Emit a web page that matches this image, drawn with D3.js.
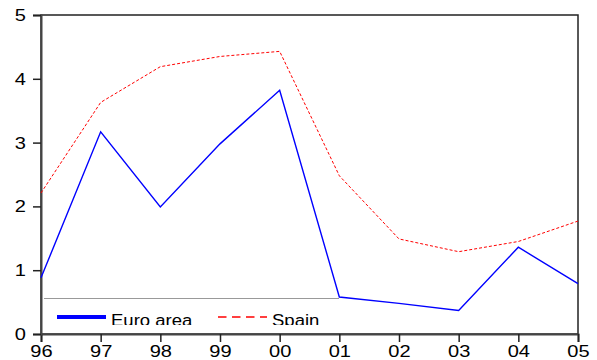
<!DOCTYPE html>
<html>
<head>
<meta charset="utf-8">
<script src="https://cdn.jsdelivr.net/npm/d3@7"></script>
<style>
  body { margin: 0; background: #fff; }
  text { font-family: "Liberation Sans", Arial, sans-serif; }
</style>
</head>
<body>
<div id="chart"></div>
<script>
'use strict';

var years = ['96', '97', '98', '99', '00', '01', '02', '03', '04', '05'];
var euroArea = [0.88, 3.17, 1.99, 2.98, 3.82, 0.58, 0.48, 0.37, 1.36, 0.79];
var spain = [2.21, 3.63, 4.19, 4.35, 4.43, 2.48, 1.49, 1.29, 1.45, 1.77];
var yTicks = [0, 1, 2, 3, 4, 5];

var chart = {};
chart.w = 597;
chart.h = 360;
chart.margins = {top: 15, right: 19, bottom: 26, left: 41};
chart.cw = chart.w - chart.margins.left - chart.margins.right;
chart.ch = chart.h - chart.margins.top - chart.margins.bottom;
chart.stretch = 1.18;   // the labels in the original are a bit wide

var svg = d3.select('#chart').append('svg')
    .attr('width', chart.w)
    .attr('height', chart.h);

var g = svg.append('g')
    .attr('transform', 'translate(' + chart.margins.left + ',' + chart.margins.top + ')');

var xScale = d3.scalePoint().domain(years).range([0, chart.cw]);
var yScale = d3.scaleLinear().domain([0, 5]).range([chart.ch, 0]);

// frame
g.append('rect')
    .attr('x', 0).attr('y', 0)
    .attr('width', chart.cw).attr('height', chart.ch)
    .attr('fill', 'none')
    .attr('stroke', '#222')
    .attr('stroke-width', 1.5);

var xAxis = d3.axisBottom(xScale).tickSize(8).tickPadding(3);
var yAxis = d3.axisLeft(yScale).tickValues(yTicks).tickFormat(d3.format('d'))
    .tickSize(8).tickPadding(6);

var xg = g.append('g')
    .attr('transform', 'translate(0,' + chart.ch + ')')
    .call(xAxis);
var yg = g.append('g').call(yAxis);

[xg, yg].forEach(function (a) {
    a.attr('font-family', '"Liberation Sans", Arial, sans-serif').attr('font-size', 17);
    a.select('.domain').attr('stroke', '#444').attr('stroke-width', 2);
    a.selectAll('.tick line').attr('stroke', '#222').attr('stroke-width', 1.5);
    a.selectAll('.tick text').attr('fill', '#000')
        .attr('transform', 'scale(' + chart.stretch + ',1)');
});
yg.selectAll('.tick text').attr('x', -15 / chart.stretch);

var line = d3.line()
    .x(function (d, i) { return xScale(years[i]); })
    .y(function (d) { return yScale(d); });

g.append('path')
    .datum(spain)
    .attr('fill', 'none')
    .attr('stroke', '#ff0000')
    .attr('stroke-width', 1)
    .attr('stroke-dasharray', '3,2')
    .attr('d', line);

g.append('path')
    .datum(euroArea)
    .attr('fill', 'none')
    .attr('stroke', '#0000ff')
    .attr('stroke-width', 1.4)
    .attr('d', line);

// legend
var legend = svg.append('g').attr('class', 'legend');
svg.append('clipPath').attr('id', 'legclip')
    .append('rect').attr('x', 40).attr('y', 297).attr('width', 310).attr('height', 28);

legend.append('line')
    .attr('x1', 44).attr('x2', 339)
    .attr('y1', 298.5).attr('y2', 298.5)
    .attr('stroke', '#999').attr('stroke-width', 1);

var legItems = [
    {name: 'Euro area', color: '#0000ff', dash: null, w: 4, x: 57},
    {name: 'Spain', color: '#ff0000', dash: '8.5,5.5', w: 1.5, x: 218}
];
var li = legend.selectAll('.item').data(legItems).enter().append('g')
    .attr('clip-path', 'url(#legclip)');
li.append('line')
    .attr('x1', function (d) { return d.x; })
    .attr('x2', function (d) { return d.x + 49; })
    .attr('y1', 317).attr('y2', 317)
    .attr('stroke', function (d) { return d.color; })
    .attr('stroke-width', function (d) { return d.w; })
    .attr('stroke-dasharray', function (d) { return d.dash; });
li.append('text')
    .attr('transform', function (d) { return 'translate(' + (d.x + 54) + ',326) scale(1.09,1)'; })
    .style('font-size', '17px')
    .text(function (d) { return d.name; });
</script>
</body>
</html>
